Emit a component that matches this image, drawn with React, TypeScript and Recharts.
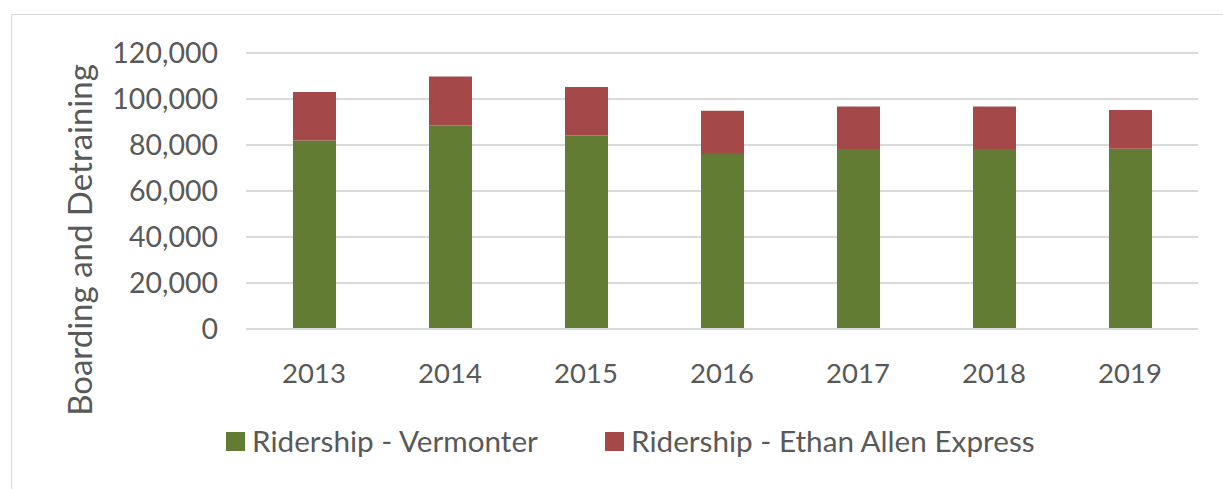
import React from 'react';
import { BarChart, Bar, XAxis, YAxis, CartesianGrid, Legend } from 'recharts';

const years = ['2013', '2014', '2015', '2016', '2017', '2018', '2019'];
const vermonter = [82000, 88500, 84100, 76100, 78300, 78300, 78400];
const ethanAllen = [21000, 21300, 21100, 18800, 18400, 18400, 16800];
const yTicks = [0, 20000, 40000, 60000, 80000, 100000, 120000];
const seriesNames = ['Ridership - Vermonter', 'Ridership - Ethan Allen Express'];
const seriesColors = ['#637C34', '#A4484A'];

const data = years.map((y, i) => ({ year: y, vermonter: vermonter[i], ethanAllen: ethanAllen[i] }));

const FONT = 'Lato, "Open Sans", sans-serif';
const TEXT = '#595959';
const GRID = '#d9d9d9';

const LegendContent = () => (
  <div style={{ position: 'relative', height: 40, width: 1223, fontFamily: FONT, fontSize: 29.7, color: TEXT }}>
    {seriesNames.map((n, i) => (
      <div
        key={n}
        style={{ position: 'absolute', left: i === 0 ? 226 : 605, top: 0, height: 40, display: 'flex', alignItems: 'center', whiteSpace: 'nowrap' }}
      >
        <span style={{ display: 'inline-block', width: 19, height: 19, background: seriesColors[i], marginRight: 7 }} />
        <span style={{ lineHeight: '40px' }}>{n}</span>
      </div>
    ))}
  </div>
);

const YLabel = () => (
  <text
    x={79}
    y={240}
    transform="rotate(-90 79 240)"
    textAnchor="middle"
    dominantBaseline="central"
    fill={TEXT}
    fontSize={33}
    fontFamily={FONT}
  >
    Boarding and Detraining
  </text>
);

export default function App() {
  return (
    <div style={{ position: 'absolute', left: 0, top: 0, width: 1223, height: 489, background: '#fff', overflow: 'hidden' }}>
      <div
        style={{
          position: 'absolute',
          left: 11,
          top: 14,
          width: 1400,
          height: 700,
          borderTop: `1px solid ${GRID}`,
          borderLeft: `1px solid ${GRID}`,
        }}
      />
      <div style={{ position: 'absolute', left: 0, top: 0 }}>
        <BarChart
          width={1223}
          height={489}
          data={data}
          margin={{ top: 53, right: 25, left: 100, bottom: 28 }}
          barSize={43}
        >
          <CartesianGrid vertical={false} stroke={GRID} strokeWidth={2} />
          <XAxis
            dataKey="year"
            height={92}
            axisLine={{ stroke: GRID, strokeWidth: 2 }}
            tickLine={false}
            tickSize={0}
            tickMargin={34}
            tick={{ fill: TEXT, fontSize: 27.5, fontFamily: FONT }}
          />
          <YAxis
            width={146}
            domain={[0, 120000]}
            ticks={yTicks}
            interval={0}
            axisLine={false}
            tickLine={false}
            tickSize={0}
            tickMargin={28}
            tickFormatter={(v: number) => v.toLocaleString('en-US')}
            tick={{ fill: TEXT, fontSize: 28.5, fontFamily: FONT }}
            label={<YLabel />}
          />
          <Legend verticalAlign="bottom" wrapperStyle={{ left: 0, width: 1223 }} content={<LegendContent />} />
          <Bar dataKey="vermonter" name={seriesNames[0]} stackId="a" fill={seriesColors[0]} isAnimationActive={false} />
          <Bar dataKey="ethanAllen" name={seriesNames[1]} stackId="a" fill={seriesColors[1]} isAnimationActive={false} />
        </BarChart>
      </div>
    </div>
  );
}
